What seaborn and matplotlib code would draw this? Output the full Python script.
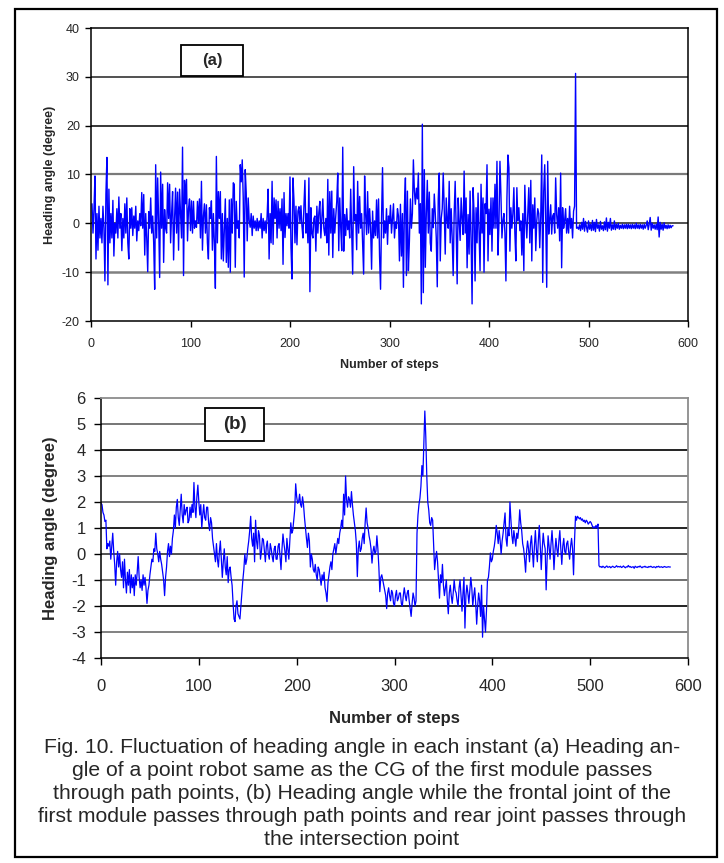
import numpy as np
import pandas as pd
import matplotlib
matplotlib.use("Agg")
import matplotlib.pyplot as plt
import seaborn as sns
from matplotlib.patches import Rectangle

# ---------------- data ----------------
# (a) heading angle of a point robot, steps 1..585
angle_a = [
    4, -2, 3, 9.7, -7.3, 2, -5.5, 3.5, -3, 1,
    -4, 3.5, -1, -11.8, 6, 13.5, -12.6, 7, -4, 2,
    -3, 4.7, -6.7, 0, -2, 3, -3, 5.4, -1, 2,
    -5.6, 1, -3, 4, -2, 5.2, -4, -7.3, 3, -1,
    3.2, -2.5, 1.5, -1, 3.5, -3.6, 0.5, -1.5, 2, -0.5,
    6.3, -1, 5.9, -6.5, 2, -3, -9.9, 2.4, -1, 5.2,
    -2, 1.5, -4, -13.5, 12, -3, 9.3, 0.5, -11.1, 10.5,
    -1, 8, -8, 2.8, -1, -2, 8.3, 1, 8, -4,
    2, 6.5, -7.5, 1, 7.2, -2, 6.4, -5.5, 7, 2,
    -3, 15.6, -10.7, 8.8, 4, 9, -3.6, 3, 5, -1.5,
    4.6, -2, 4.5, -1, 0.5, -0.8, 4.5, 0, 5, -3,
    8.6, -5.5, 1.5, 4, -2, 3.8, -4, -7.3, 3.2, 1,
    4.6, -5.5, 2, -4, -13.3, 13.7, -4, 6.5, 1, 6.5,
    -7.3, 2, -7.7, -1, 5, -8, 1, -9, 4.8, -10,
    5, -2, 8.3, 8, -9, 4.5, -1, 0.5, -3, 12,
    8.5, 13, 5.2, -11, 11, 6.3, -3.6, 5.2, 0.5, -0.8,
    2, -2.5, 1.5, -1, 0.5, -1.5, 1, -1.5, 0.5, -1,
    2, -3, 1, -1.5, 0.5, -2, 1.5, 7, -7.3, 2,
    -4, 8.6, -4.3, 5.2, 1, 4.8, -3, 4.5, -1, 3,
    -1.5, 5, -8.4, 6.3, -2.9, 2, -0.5, 2, -1, 9.5,
    -5, -11.4, 9.3, 4.6, -4, 3.5, -4.4, 2.5, 3.4, 0,
    3.6, -0.5, -3, 3.5, 8.8, -2, 2, -4, 9.3, -14,
    3.2, -2, -3, 1, 1.5, -5.7, 3.5, -2, 2.2, 4.5,
    -3, 1, 5, -1, -2.5, 1, -4, 9, -6.5, 6.5,
    -2, 6.6, -7, 3, -2, 1.5, 4.5, 10.3, -5.6, 5.2,
    -1, -5.6, 15.6, -5.7, 1.8, -2.5, 3, -1.3, 0.5, -3,
    7, -2, -10.4, 11.6, 0.5, 1.8, -5.4, 8.6, -2, 5.5,
    -1, 2, -4, -10.4, 9.7, 1.8, -2.3, 6.5, -2, 3,
    -1, -9.4, 2.5, -3, 0.5, -2.5, 4.8, -3, 5, -6.7,
    -13.5, 1, 11.4, -3, 0.5, -2, 3, -4.3, 1.5, 0,
    3.7, -2, 1, 4, -3, 0.3, -1, 3, 1.5, -7.7,
    3.9, -6.7, 2, -13.1, 3.5, 9.3, -10.7, 6.6, -9.7, -3.6,
    5, -1, 2, 13, 6.6, 3.9, 7.2, 5, 10.3, -2,
    4, -16.5, 20.3, -14.2, 11, -9, 2, 8.8, -2, 6.4,
    -4, -5.7, 3, -0.9, 6, 2, -3, -13, 5, 10.3,
    -7.7, 1, 3, 10.3, 3, -6.3, 5.2, 0.5, -1, 8.6,
    -4, 3, -3, -10.7, 2, 8.6, -1, -12.4, 5.2, 0.5,
    -3.5, 5.2, 1, -2.3, 10.7, -2, 5.2, -9.1, 1.8, -6.3,
    6.6, -3, -16.5, 7.3, 2, -11.8, 3.2, -4, 6.2, -2,
    -9.7, 8, -2, 5.2, -10, 4, 2, 12, -7.7, 2.9,
    -2.3, 5.2, -5.7, 5.2, -1, 8, -1, 12.7, -6.5, 0,
    12.7, 5.8, -3, 0.5, 2, -2, -11.8, 5, 14, 11.4,
    -5.7, 3.2, -1, 2, 7.3, -2, -7.7, 7.3, 0.5, 3.2,
    -1.5, 0.5, -6.5, 2, -9.7, 7.8, 0.5, -3, 1.9, 7.3,
    -4, 8.8, -7.7, 3.8, -1, 5.2, -5.6, 0.5, 3, 2,
    -5, 1.5, 14, -12.1, 6.6, 12, 1, -13.1, 12.7, -2.2,
    0.5, 3.8, -2.2, 1.5, 2, -2, 9.3, 1.8, -1, 3.2,
    -3.6, 10.3, -9.1, 3.2, -1, 0.5, 3, -2, 1, -2,
    3.5, -1, 1, -3, 2.5, 3.5, 30.7, -1, -0.8, -1.2,
    -0.3, -1.5, 0.2, -1.2, 1, -1.6, 0.4, -0.8, -1.8, 0.5,
    -1.2, -0.2, -1.5, 0.6, -1.4, 0.2, -1.7, 0.8, -1, -0.3,
    -1.6, 0.4, -1.2, -0.5, -1.5, 0.3, -1.3, 1.1, -1.6, 0.2,
    -1, 1, -1.4, -0.3, -1.2, 0.5, -1.3, -0.2, -1, 0,
    -1.2, -0.4, -1, -0.2, -1.1, -0.3, -1, -0.2, -1.1, -0.2,
    -1, -0.3, -1.1, -0.2, -1, -0.3, -1.1, 0, -1, -0.3,
    -1.1, -0.2, -1, -0.3, -1.2, -0.2, -1, -0.4, 0.5, -1.3,
    -0.2, 1.2, -1.4, 0, -1, -0.3, -1.2, -0.2, -1.3, 1.3,
    -2.8, 0.2, -1.2, -0.2, -1.4, 0.1, -1, -0.4, -1.1, -0.3,
    -1, -0.4, -0.9, -0.5, -0.5,
]

# (b) heading angle with frontal / rear joint constraint, steps 0..582
angle_b = [
    1.95, 1.9, 1.6, 1.5, 1.25, 1.3, 0.2, 0.4, 0.3, 0.5,
    -0.2, 0.3, 0.8, 0.1, -0.4, -1.2, -0.3, 0.1, -0.5, 0.0,
    -0.6, -0.9, -0.3, -1.3, -0.2, -1.0, -1.5, -0.7, -1.2, -0.6,
    -1.5, -0.8, -1.3, -0.9, -1.6, -0.8, -1.2, -0.7, -0.1, -0.9,
    -1.3, -1.0, -1.4, -0.8, -1.2, -0.9, -1.3, -1.9, -1.4, -1.2,
    -0.8, -0.5, -0.2, -0.3, 0.2, 0.1, 0.8, 0.2, 0.0, -0.3,
    0.1, -0.2, -0.4, -0.7, -1.0, -1.6, -0.9, -0.5, 0.1, 0.4,
    -0.1, 0.3, 0.0, 0.6, 0.9, 1.5, 1.0, 1.8, 2.1, 1.4,
    1.1, 1.7, 2.3, 1.5, 1.2, 1.9, 1.5, 1.7, 1.8, 1.2,
    1.3, 1.8, 1.4, 1.9, 1.6, 2.75, 1.8, 1.4, 2.2, 2.65,
    2.0, 1.5, 1.9, 1.0, 1.5, 1.9, 1.4, 1.3, 1.8, 1.8,
    1.2, 0.9, 1.4, 1.2, 0.6, 0.3, 0.0, -0.3, 0.4, -0.2,
    -0.5, 0.1, 0.5, -0.2, -0.9, -0.3, 0.2, -0.5, -0.8, -0.1,
    -1.1, -0.6, -0.5, -0.9, -1.2, -1.9, -2.5, -2.6, -2.0, -1.8,
    -2.3, -2.4, -2.5, -2.0, -1.5, -1.0, -0.6, 0.0, -0.4, -0.2,
    0.2, 0.5, 0.9, 1.45, 0.6, 0.3, 0.8, -0.3, 1.3, 0.5,
    0.2, 0.9, 0.7, -0.2, 0.1, 0.6, 0.55, 0.1, -0.3, 0.3,
    0.5, 0.0, -0.2, 0.4, 0.2, -0.1, -0.3, 0.2, 0.3, -0.2,
    -0.2, 0.3, 0.4, -0.1, -0.6, 0.2, 0.77, 0.4, 0.1, -0.3,
    0.6, 0.2, -0.2, 0.5, 1.2, 0.8, 0.9, 1.3, 1.7, 2.7,
    2.2, 1.95, 2.0, 2.3, 1.9, 1.8, 2.2, 1.9, 1.4, 1.0,
    0.6, 0.25, 0.8, 0.5, -0.5, 0.0, -0.2, -0.6, -0.7, -0.4,
    -0.8, -1.0, -0.5, -0.6, -0.9, -1.2, -0.8, -1.0, -0.7, -1.3,
    -1.5, -1.83, -1.1, -0.8, -0.5, -0.3, -0.6, 0.0, 0.2, 0.4,
    0.0, 0.3, 0.6, 0.4, 0.8, 1.0, 1.3, 1.0, 2.3, 1.5,
    3.0, 2.1, 1.8, 2.2, 2.1, 1.8, 2.4, 1.9, 1.5, 1.2,
    0.9, 0.4, -0.87, 0.2, 0.5, 0.1, 0.2, 0.6, 0.8, 0.4,
    1.2, 1.77, 1.2, 1.0, 0.7, 0.5, 0.2, -0.35, 0.1, 0.3,
    0.0, 0.1, 0.7, 0.2, -0.5, -1.45, -0.9, -0.8, -1.0, -1.2,
    -1.4, -1.6, -2.1, -1.5, -1.3, -1.6, -1.8, -1.4, -1.5, -1.9,
    -2.0, -1.6, -1.4, -1.8, -1.7, -1.5, -1.5, -1.9, -2.0, -1.6,
    -1.3, -1.6, -1.8, -1.5, -1.4, -1.8, -2.1, -2.4, -1.9, -1.5,
    -1.7, -2.0, -1.8, 0.8, 1.5, 1.9, 2.15, 2.6, 3.4, 3.0,
    4.2, 5.5, 4.5, 3.0, 2.0, 1.7, 1.2, 1.1, 1.4, 1.3,
    0.3, -0.6, -0.2, 0.1, -0.3, -1.0, -1.7, -0.8, -1.1, -0.4,
    -1.2, -1.6, -1.3, -1.0, -1.8, -2.3, -1.5, -1.2, -1.6, -1.9,
    -1.5, -1.0, -1.4, -1.5, -1.8, -2.0, -1.3, -1.0, -1.6, -2.2,
    -1.5, -0.9, -2.85, -1.6, -1.2, -1.5, -1.9, -1.4, -0.9, -1.3,
    -2.0, -1.6, -1.3, -1.9, -2.7, -2.0, -1.5, -1.8, -2.4, -1.2,
    -3.2, -2.0, -2.5, -3.0, -2.2, -1.0, -0.9, -0.5, 0.04, -0.3,
    -0.2, 0.1, 0.3, 0.6, 1.1, 0.8, 0.4, 0.9, 0.5, 0.0,
    0.5, 0.8, 1.2, 1.58, 0.6, 0.3, 1.0, 0.7, 2.0, 1.3,
    0.7, 0.4, 0.9, 0.6, 0.3, 0.8, 0.6, 1.0, 1.7, 1.2,
    0.9, 0.4, 0.2, -0.2, -0.7, 0.1, 0.5, 0.2, -0.3, 0.4,
    0.7, 0.1, -0.5, 0.3, 0.9, 0.2, -0.3, 0.5, 1.1, 0.3,
    -0.6, 0.2, 0.8, 0.4, 0.2, -1.38, -0.2, 0.7, 0.3, -0.2,
    0.4, 0.9, 0.3, -0.6, 0.1, 0.6, 0.2, -0.1, 0.5, 0.9,
    0.2, -0.4, 0.3, 0.6, 0.1, 0.0, 0.4, 0.5, 0.1, -0.2,
    0.3, 0.6, 0.2, -0.8, 0.5, 1.45, 1.3, 1.45, 1.4, 1.35,
    1.4, 1.3, 1.35, 1.25, 1.3, 1.2, 1.3, 1.25, 1.15, 1.2,
    1.25, 1.2, 1.1, 1.0, 1.05, 1.0, 1.1, 1.0, 1.15, -0.45,
    -0.5, -0.48, -0.52, -0.47, -0.5, -0.53, -0.49, -0.46, -0.51, -0.5,
    -0.48, -0.53, -0.5, -0.47, -0.5, -0.52, -0.49, -0.45, -0.5, -0.48,
    -0.5, -0.47, -0.52, -0.5, -0.46, -0.5, -0.53, -0.49, -0.5, -0.44,
    -0.5, -0.48, -0.52, -0.5, -0.49, -0.55, -0.47, -0.5, -0.52, -0.48,
    -0.5, -0.46, -0.5, -0.53, -0.49, -0.5, -0.47, -0.51, -0.5, -0.52,
    -0.48, -0.5, -0.47, -0.5, -0.52, -0.49, -0.5, -0.53, -0.48, -0.5,
    -0.47, -0.51, -0.5, -0.49, -0.52, -0.5, -0.48, -0.5, -0.51, -0.5,
    -0.49, -0.5, -0.5,
]

xticks = [0, 100, 200, 300, 400, 500, 600]
yticks_a = [-20, -10, 0, 10, 20, 30, 40]
yticks_b = [-4, -3, -2, -1, 0, 1, 2, 3, 4, 5, 6]

xlabel = "Number of steps"
ylabel = "Heading angle (degree)"
caption_lines = [
    "Fig. 10. Fluctuation of heading angle in each instant (a) Heading an-",
    "gle of a point robot same as the CG of the first module passes",
    "through path points, (b) Heading angle while the frontal joint of the",
    "first module passes through path points and rear joint passes through",
    "the intersection point",
]

df_a = pd.DataFrame({"step": np.arange(1, len(angle_a) + 1), "angle": angle_a})
df_b = pd.DataFrame({"step": np.arange(0, len(angle_b)), "angle": angle_b})

# ---------------- style ----------------
sns.set_style("white")
plt.rcParams["font.family"] = ["Liberation Sans", "DejaVu Sans"]
plt.rcParams["axes.unicode_minus"] = False

W, H = 724, 863
fig = plt.figure(figsize=(W / 100, H / 100), dpi=100)


def fx(px):
    return px / W


def fy(py):
    return 1 - py / H


def axes_rect(l, t, r, b):
    return [fx(l), fy(b), fx(r) - fx(l), fy(t) - fy(b)]


ax_a = fig.add_axes(axes_rect(91, 28, 688, 321))
ax_b = fig.add_axes(axes_rect(101, 398, 688, 658))

blue = "#0000FF"
sns.lineplot(data=df_a, x="step", y="angle", ax=ax_a, color=blue, lw=1.0,
             estimator=None, sort=False, legend=False)
sns.lineplot(data=df_b, x="step", y="angle", ax=ax_b, color=blue, lw=0.9,
             estimator=None, sort=False, legend=False)

# panel (a) axes
ax_a.set_xlim(0, 600)
ax_a.set_ylim(-20, 40)
ax_a.set_xticks(xticks)
ax_a.set_yticks(yticks_a)
grid_a = {30: ("#333333", 1.2), 20: ("#000000", 1.1), 10: ("#7a7a7a", 1.6),
          0: ("#222222", 1.1), -10: ("#808080", 1.8)}
for v, (c, w) in grid_a.items():
    ax_a.axhline(v, color=c, lw=w, zorder=0.5)
for s in ["left", "bottom", "top", "right"]:
    ax_a.spines[s].set_visible(True)
    ax_a.spines[s].set_color("black")
    ax_a.spines[s].set_linewidth(1.1)
ax_a.tick_params(axis="both", direction="out", length=4, width=1, color="black",
                 labelsize=9, left=True, bottom=True)
ax_a.tick_params(axis="y", pad=4)
ax_a.tick_params(axis="x", pad=8)
ax_a.set_xlabel(xlabel, fontsize=9, fontweight="bold", labelpad=7)
ax_a.set_ylabel(ylabel, fontsize=9, fontweight="bold", labelpad=4)

# panel (b) axes
ax_b.set_xlim(0, 600)
ax_b.set_ylim(-4, 6)
ax_b.set_xticks(xticks)
ax_b.set_yticks(yticks_b)
grid_b = {5: "#6a6a6a", 4: "#111111", 3: "#777777", 2: "#666666", 1: "#111111",
          0: "#444444", -1: "#666666", -2: "#111111", -3: "#777777"}
for v, c in grid_b.items():
    ax_b.axhline(v, color=c, lw=1.3, zorder=0.5)
for s in ["left", "bottom"]:
    ax_b.spines[s].set_visible(True)
    ax_b.spines[s].set_color("black")
    ax_b.spines[s].set_linewidth(1.1)
for s in ["top", "right"]:
    ax_b.spines[s].set_visible(True)
    ax_b.spines[s].set_color("#8c8c8c")
    ax_b.spines[s].set_linewidth(1.3)
ax_b.tick_params(axis="both", direction="out", length=5, width=1, color="black",
                 labelsize=12, left=True, bottom=True)
ax_b.tick_params(axis="y", pad=6)
ax_b.tick_params(axis="x", pad=10)
ax_b.set_xlabel(xlabel, fontsize=12, fontweight="bold", labelpad=12)
ax_b.set_ylabel(ylabel, fontsize=12, fontweight="bold", labelpad=9)

# panel tags (boxed)
for (l, t, r, b), tag, fs in [((181, 45, 243, 76), "(a)", 12),
                              ((205, 408, 264, 441), "(b)", 13.5)]:
    fig.add_artist(Rectangle((fx(l), fy(b)), fx(r) - fx(l), fy(t) - fy(b),
                             transform=fig.transFigure, facecolor="white",
                             edgecolor="black", lw=1.3, zorder=5))
    fig.text(fx((l + r) / 2), fy((t + b) / 2), tag, ha="center", va="center",
             fontsize=fs, fontweight="bold", zorder=6)

# outer frame
fig.add_artist(Rectangle((fx(15), fy(857)), fx(717) - fx(15), fy(9) - fy(857),
                         transform=fig.transFigure, facecolor="none",
                         edgecolor="black", lw=1.6, zorder=10))

# caption, fitted so the first line spans ~636 px
renderer = fig.canvas.get_renderer()
probe = fig.text(0, 0, caption_lines[0], fontsize=13)
wpx = probe.get_window_extent(renderer).width
probe.remove()
cap_fs = 13 * 636 / wpx
for i, line in enumerate(caption_lines):
    fig.text(fx(362), fy(747 + 23 * i), line, ha="center", va="center",
             fontsize=cap_fs)

fig.savefig("out.png", dpi=100)
